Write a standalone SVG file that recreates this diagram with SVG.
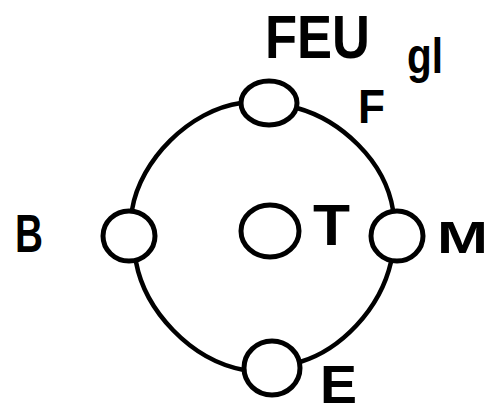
<svg xmlns="http://www.w3.org/2000/svg" width="493" height="413" viewBox="0 0 493 413">
<style>
.n{fill:none;stroke:#000;stroke-width:5}
.c{fill:none;stroke:#000;stroke-width:4.5;stroke-linecap:round}
.t{font-family:"Liberation Sans",Arial,sans-serif;font-weight:bold;fill:#000}
</style>
<rect width="493" height="413" fill="#fff"/>
<g id="connectors">
<path class="c" d="M297,108 C340,120 385,160 393,210"/>
<path class="c" d="M391,262 C380,310 340,350 300,362"/>
<path class="c" d="M244,370 C190,360 145,310 136,262"/>
<path class="c" d="M132,210 C140,160 190,110 241,103"/>
</g>
<g id="title"><text class="t" x="265" y="58" font-size="62" textLength="105" lengthAdjust="spacingAndGlyphs">FEU</text><text class="t" x="407" y="73" font-size="50" font-weight="normal" textLength="36" lengthAdjust="spacingAndGlyphs">gl</text></g>
<g id="node-F"><ellipse class="n" cx="269" cy="103" rx="28" ry="22"/><text class="t" x="358" y="123" font-size="48" textLength="27" lengthAdjust="spacingAndGlyphs">F</text></g>
<g id="node-B"><ellipse class="n" cx="129" cy="236" rx="26" ry="25"/><text class="t" x="15" y="252" font-size="54" textLength="28" lengthAdjust="spacingAndGlyphs">B</text></g>
<g id="node-T"><ellipse class="n" cx="270" cy="231" rx="29" ry="26"/><text class="t" x="313" y="245" font-size="58" textLength="37" lengthAdjust="spacingAndGlyphs">T</text></g>
<g id="node-M"><ellipse class="n" cx="397" cy="236" rx="26" ry="25"/><text class="t" x="437" y="253" font-size="44" textLength="51" lengthAdjust="spacingAndGlyphs">M</text></g>
<g id="node-E"><ellipse class="n" cx="272" cy="368" rx="28" ry="27"/><text class="t" x="320" y="403" font-size="54" textLength="37" lengthAdjust="spacingAndGlyphs">E</text></g>
</svg>
